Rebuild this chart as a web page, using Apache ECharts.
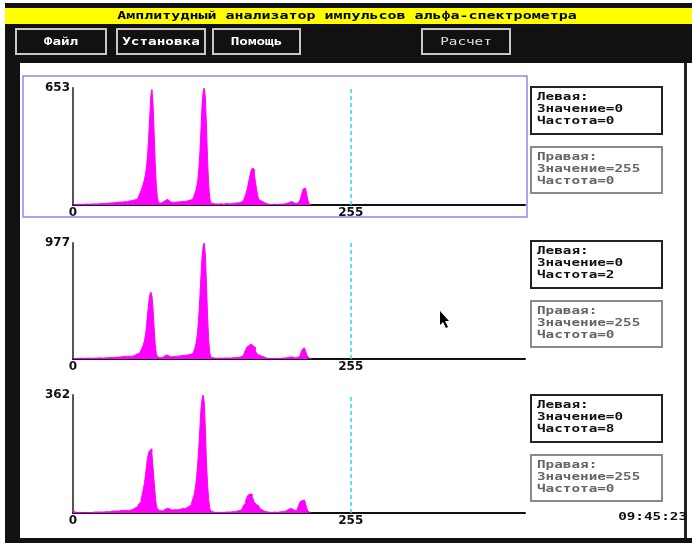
<!DOCTYPE html>
<html>
<head>
<meta charset="utf-8">
<script src="https://cdn.jsdelivr.net/npm/echarts@6/dist/echarts.min.js"></script>
<style>
  html, body { margin: 0; padding: 0; background: #fff; }
  #main { width: 692px; height: 543px; }
</style>
</head>
<body>
<div id="main"></div>
<script>
var titleText = 'Амплитудный анализатор импульсов альфа-спектрометра';
var menuItems = ['Файл', 'Установка', 'Помощь', 'Расчет'];
var clockText = '09:45:23';

// спектры, отсчёты по каналам 0..219 (дальше нули)
var spectrum1 = [
  0, 4, 3, 5, 4, 3, 4, 5, 4, 5,
  4, 5, 6, 5, 4, 6, 5, 7, 6, 5,
  6, 7, 6, 8, 7, 6, 8, 9, 7, 8,
  9, 8, 10, 9, 11, 10, 12, 11, 13, 12,
  14, 12, 15, 17, 14, 16, 18, 15, 19, 17,
  20, 18, 22, 19, 24, 21, 26, 30, 28, 34,
  40, 52, 66, 80, 98, 118, 140, 170, 215, 280,
  380, 500, 610, 645, 560, 400, 230, 110, 40, 14,
  10, 9, 12, 16, 22, 28, 32, 30, 24, 18,
  14, 13, 15, 14, 16, 15, 17, 16, 18, 17,
  19, 18, 20, 22, 21, 24, 23, 26, 28, 32,
  38, 46, 58, 75, 100, 135, 200, 290, 420, 560,
  630, 653, 600, 450, 260, 120, 40, 12, 8, 7,
  6, 7, 6, 5, 6, 5, 7, 6, 5, 6,
  7, 6, 8, 7, 6, 8, 9, 8, 10, 9,
  11, 10, 12, 14, 16, 19, 24, 30, 42, 58,
  80, 105, 135, 165, 190, 205, 200, 172, 130, 90,
  55, 32, 24, 22, 18, 14, 11, 9, 6, 5,
  4, 3, 4, 3, 4, 5, 4, 3, 4, 5,
  4, 5, 6, 5, 7, 8, 9, 11, 14, 17,
  19, 18, 16, 13, 10, 9, 12, 16, 22, 30,
  48, 75, 90, 95, 85, 62, 30, 9, 2, 0
];
var spectrum2 = [
  2, 5, 4, 6, 5, 4, 6, 5, 7, 6,
  5, 7, 6, 5, 7, 6, 8, 7, 6, 8,
  7, 9, 8, 7, 9, 8, 10, 9, 8, 11,
  10, 12, 11, 13, 12, 14, 13, 15, 14, 16,
  15, 17, 16, 18, 17, 19, 21, 18, 22, 20,
  23, 21, 25, 22, 27, 25, 30, 28, 34, 38,
  44, 52, 62, 76, 95, 118, 150, 200, 280, 380,
  470, 540, 564, 530, 420, 260, 120, 45, 18, 12,
  10, 11, 14, 20, 28, 34, 36, 30, 24, 19,
  17, 18, 20, 19, 22, 21, 24, 23, 26, 25,
  28, 27, 30, 32, 31, 34, 36, 35, 40, 44,
  52, 64, 82, 110, 160, 240, 360, 520, 700, 860,
  950, 977, 880, 640, 380, 170, 55, 16, 10, 8,
  7, 8, 6, 7, 8, 6, 7, 8, 7, 6,
  8, 7, 9, 8, 7, 9, 10, 9, 11, 10,
  12, 11, 14, 16, 19, 24, 30, 40, 56, 78,
  98, 112, 120, 126, 118, 110, 104, 96, 70, 48,
  34, 30, 28, 26, 22, 16, 12, 9, 7, 6,
  5, 4, 5, 4, 5, 6, 5, 4, 5, 6,
  5, 6, 7, 6, 8, 9, 10, 12, 14, 16,
  18, 17, 15, 12, 10, 9, 12, 18, 26, 40,
  60, 80, 93, 88, 70, 40, 16, 6, 2, 0
];
var spectrum3 = [
  8, 3, 2, 3, 2, 1, 2, 1, 0, 1,
  1, 0, 1, 0, 1, 0, 1, 1, 2, 2,
  3, 2, 3, 2, 3, 4, 3, 4, 3, 4,
  4, 5, 4, 5, 4, 5, 6, 5, 6, 5,
  6, 7, 6, 7, 8, 7, 8, 7, 9, 8,
  9, 8, 10, 9, 11, 10, 12, 14, 16, 20,
  24, 28, 34, 42, 56, 72, 90, 115, 145, 170,
  185, 192, 197, 180, 140, 95, 55, 24, 12, 8,
  6, 7, 6, 8, 10, 12, 14, 15, 13, 10,
  8, 9, 8, 10, 9, 11, 10, 12, 11, 13,
  12, 14, 13, 15, 14, 16, 18, 20, 24, 30,
  38, 48, 60, 80, 110, 150, 200, 260, 320, 350,
  362, 340, 260, 160, 90, 45, 15, 6, 4, 3,
  3, 2, 3, 2, 3, 2, 3, 2, 3, 2,
  3, 3, 4, 3, 4, 3, 4, 4, 5, 4,
  5, 6, 6, 8, 10, 13, 18, 24, 30, 38,
  46, 54, 58, 61, 58, 50, 42, 32, 26, 24,
  22, 18, 14, 10, 8, 6, 5, 4, 3, 3,
  2, 2, 3, 2, 2, 3, 2, 2, 3, 3,
  3, 4, 3, 4, 5, 6, 8, 10, 12, 14,
  15, 12, 10, 8, 6, 8, 12, 18, 26, 34,
  38, 41, 40, 36, 28, 16, 6, 2, 1, 0
];
var spectra = [spectrum1, spectrum2, spectrum3];
var markerLeft = [0, 0, 0];
var markerRight = [255, 255, 255];

var gridTops = [88, 243, 395];
var gridHeights = [117, 116, 118];
var boxTops = [87, 241, 395];

var chart = echarts.init(document.getElementById('main'));
var MONO = '"DejaVu Sans Mono", monospace';

function freqAt(arr, ch) {
  return arr[ch] !== undefined ? arr[ch] : 0;
}

var grids = [], xAxes = [], yAxes = [], series = [], graphic = [];

// рамка и меню
graphic.push({ type: 'rect', shape: { x: 5, y: 3, width: 687, height: 60 }, style: { fill: '#111' } });
graphic.push({ type: 'rect', shape: { x: 5, y: 63, width: 15, height: 480 }, style: { fill: '#111' } });
graphic.push({ type: 'rect', shape: { x: 5, y: 538, width: 687, height: 5 }, style: { fill: '#111' } });
graphic.push({ type: 'rect', shape: { x: 684, y: 63, width: 3, height: 475 }, style: { fill: '#222' } });
graphic.push({ type: 'rect', shape: { x: 5, y: 8, width: 687, height: 16 }, style: { fill: '#ffff00' } });
graphic.push({
  type: 'text', x: 347, y: 16, scaleX: 1.36,
  style: { text: titleText, font: 'bold 11px ' + MONO, fill: '#000', textAlign: 'center', textVerticalAlign: 'middle' }
});

var btnX = [16, 117, 213, 422];
var btnW = [90, 88, 87, 88];
menuItems.forEach(function (label, i) {
  graphic.push({
    type: 'rect', shape: { x: btnX[i], y: 29, width: btnW[i], height: 25 },
    style: { fill: '#111', stroke: '#c8c8c8', lineWidth: 2 }
  });
  graphic.push({
    type: 'text', x: btnX[i] + btnW[i] / 2, y: 42, scaleX: 1.3,
    style: {
      text: label, font: (i === 3 ? '' : 'bold ') + '11px ' + MONO,
      fill: i === 3 ? '#e0e0e0' : '#fff', textAlign: 'center', textVerticalAlign: 'middle'
    }
  });
});

// выделенное окно
graphic.push({
  type: 'rect', shape: { x: 23, y: 76, width: 504, height: 141 },
  style: { fill: 'none', stroke: '#8a8af0', lineWidth: 1.5 }
});

spectra.forEach(function (arr, i) {
  var maxVal = Math.max.apply(null, arr);
  grids.push({ left: 73, top: gridTops[i], width: 452, height: gridHeights[i] });
  xAxes.push({
    type: 'value', gridIndex: i, min: 0, max: 415,
    axisLine: { show: true, lineStyle: { color: '#111', width: 2 } },
    axisTick: { show: false },
    splitLine: { show: false },
    axisLabel: {
      customValues: [0, 255], margin: 2, color: '#111',
      fontFamily: 'DejaVu Sans', fontWeight: 'bold', fontSize: 12
    }
  });
  yAxes.push({
    type: 'value', gridIndex: i, min: 0, max: maxVal,
    axisLine: { show: true, lineStyle: { color: '#555', width: 2 } },
    axisTick: { show: false },
    splitLine: { show: false },
    axisLabel: {
      customValues: [maxVal], margin: 3, color: '#111',
      fontFamily: 'DejaVu Sans', fontWeight: 'bold', fontSize: 12
    }
  });
  series.push({
    type: 'line', xAxisIndex: i, yAxisIndex: i,
    step: 'middle', symbol: 'none', silent: true,
    lineStyle: { color: '#ff00ff', width: 1 },
    areaStyle: { color: '#ff00ff', opacity: 1 },
    data: arr.map(function (v, ch) { return [ch, v]; }),
    markLine: {
      silent: true, symbol: 'none', label: { show: false },
      lineStyle: { color: '#22dede', type: [4, 3], width: 1.5 },
      data: [{ xAxis: markerRight[i] }]
    }
  });

  // окна курсоров
  var top = boxTops[i];
  graphic.push({
    type: 'rect', shape: { x: 531, y: top, width: 131, height: 47 },
    style: { fill: '#fff', stroke: '#222', lineWidth: 2 }
  });
  graphic.push({
    type: 'text', x: 537, y: top + 4, scaleX: 1.3,
    style: {
      text: 'Левая:\nЗначение=' + markerLeft[i] + '\nЧастота=' + freqAt(arr, markerLeft[i]),
      font: 'bold 11px ' + MONO, fill: '#111', lineHeight: 12, textAlign: 'left', textVerticalAlign: 'top'
    }
  });
  graphic.push({
    type: 'rect', shape: { x: 531, y: top + 60, width: 131, height: 46 },
    style: { fill: '#fff', stroke: '#8a8a8a', lineWidth: 2 }
  });
  graphic.push({
    type: 'text', x: 537, y: top + 64, scaleX: 1.3,
    style: {
      text: 'Правая:\nЗначение=' + markerRight[i] + '\nЧастота=' + freqAt(arr, markerRight[i]),
      font: 'bold 11px ' + MONO, fill: '#666', lineHeight: 12, textAlign: 'left', textVerticalAlign: 'top'
    }
  });
});

// часы
graphic.push({
  type: 'text', x: 687, y: 517, scaleX: 1.3,
  style: { text: clockText, font: 'bold 11px ' + MONO, fill: '#111', textAlign: 'right', textVerticalAlign: 'middle' }
});
// указатель мыши
graphic.push({
  type: 'polygon',
  shape: { points: [[440, 311], [440, 325], [443, 322], [446, 328], [448, 327], [445, 321], [449, 321]] },
  style: { fill: '#000' }
});

chart.setOption({
  backgroundColor: '#fff',
  animation: false,
  grid: grids,
  xAxis: xAxes,
  yAxis: yAxes,
  series: series,
  graphic: graphic
});
</script>
</body>
</html>
